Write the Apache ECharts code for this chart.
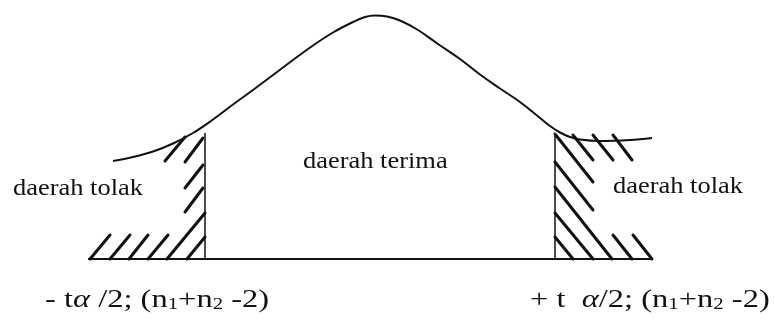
<!DOCTYPE html>
<html>
<head>
<meta charset="utf-8">
<script src="https://cdn.jsdelivr.net/npm/echarts@6/dist/echarts.min.js"></script>
<style>
html,body{margin:0;padding:0;background:#fff;}
#c{width:775px;height:325px;}
</style>
</head>
<body>
<div id="c"></div>
<script>
// Curve of the distribution (x, height measured downward from top)
var curveX = [113, 133, 153, 173, 193, 213, 233, 253, 273, 293, 313, 333, 353, 365, 375, 387, 400, 418, 438, 460, 480, 500, 520, 540, 550, 560, 570, 580, 600, 630, 652];
var curveY = [161, 157, 151.5, 143.5, 133, 119.5, 104.5, 90, 75, 60, 45.5, 32.5, 22, 17, 15.5, 16.5, 20.5, 30, 44, 59, 74.5, 88.5, 102, 118, 126, 132.5, 137, 139.5, 141, 140, 138];

// Base line and critical value borders
var baseLine = [[88, 259], [653, 259]];
var leftCritical = [[205, 133], [205, 259]];
var rightCritical = [[555, 133], [555, 259]];

// Hatch strokes of rejection regions: [x1, y1, x2, y2]
var leftHatch = [
  [90, 259, 110, 235], [110, 259, 130, 235], [129, 259, 148, 235], [148, 259, 168, 235],
  [167, 259, 205, 213], [187, 259, 205, 237],
  [165, 161, 185, 137], [185, 162, 203, 138], [185, 188, 203, 165], [185, 212, 203, 188]
];
var rightHatch = [
  [555, 134, 593, 182], [555, 162, 593, 210], [555, 187, 612, 259], [555, 213, 593, 259],
  [555, 237, 573, 259], [613, 235, 632, 259], [633, 235, 652, 259],
  [573, 135, 593, 160], [593, 135, 613, 160], [613, 135, 632, 160]
];

// Texts
var regionLabels = ['daerah tolak', 'daerah terima', 'daerah tolak'];
var leftCritLabel = '{m|- t}{g|\u03b1}{m| /2; (n}{s|1}{m|+n}{s|2}{m| -2)}';
var rightCritLabel = '{m|+ t  }{g|\u03b1}{m|/2; (n}{s|1}{m|+n}{s|2}{m| -2)}';

var FONT = "'Liberation Serif','Times New Roman',serif";

function pairs(xs, ys) { return xs.map(function (x, i) { return [x, ys[i]]; }); }
function segs(list) { return list.map(function (s) { return { coords: [[s[0], s[1]], [s[2], s[3]]] }; }); }

var richStyle = {
  m: { fontFamily: FONT, fontSize: 25, fill: '#111', lineHeight: 30 },
  g: { fontFamily: FONT, fontSize: 25, fontStyle: 'italic', fill: '#111', lineHeight: 30 },
  s: { fontFamily: FONT, fontSize: 16, fill: '#111', lineHeight: 30, padding: [10, 0, 0, 0] }
};

var chart = echarts.init(document.getElementById('c'), null, { renderer: 'canvas' });
chart.setOption({
  animation: false,
  backgroundColor: '#fff',
  grid: { left: 0, right: 0, top: 0, bottom: 0 },
  xAxis: { type: 'value', min: 0, max: 775, show: false },
  yAxis: { type: 'value', min: 0, max: 325, inverse: true, show: false },
  series: [
    { type: 'line', data: pairs(curveX, curveY), smooth: 0.4, symbol: 'none', lineStyle: { color: '#111', width: 2 } },
    { type: 'line', data: baseLine, symbol: 'none', lineStyle: { color: '#111', width: 2 } },
    { type: 'line', data: leftCritical, symbol: 'none', lineStyle: { color: '#111', width: 1.5 } },
    { type: 'line', data: rightCritical, symbol: 'none', lineStyle: { color: '#111', width: 1.5 } },
    { type: 'lines', coordinateSystem: 'cartesian2d', data: segs(leftHatch), lineStyle: { color: '#111', width: 3, opacity: 1, cap: 'round' } },
    { type: 'lines', coordinateSystem: 'cartesian2d', data: segs(rightHatch), lineStyle: { color: '#111', width: 3, opacity: 1, cap: 'round' } }
  ],
  graphic: [
    { type: 'text', x: 13, y: 177, scaleX: 1.15, style: { text: regionLabels[0], font: '23px ' + FONT, fill: '#111' } },
    { type: 'text', x: 303, y: 150, scaleX: 1.15, style: { text: regionLabels[1], font: '23px ' + FONT, fill: '#111' } },
    { type: 'text', x: 613, y: 175, scaleX: 1.15, style: { text: regionLabels[2], font: '23px ' + FONT, fill: '#111' } },
    { type: 'text', x: 45, y: 285, scaleX: 1.3, style: { text: leftCritLabel, rich: richStyle } },
    { type: 'text', x: 530, y: 285, scaleX: 1.3, style: { text: rightCritLabel, rich: richStyle } }
  ]
});
</script>
</body>
</html>
